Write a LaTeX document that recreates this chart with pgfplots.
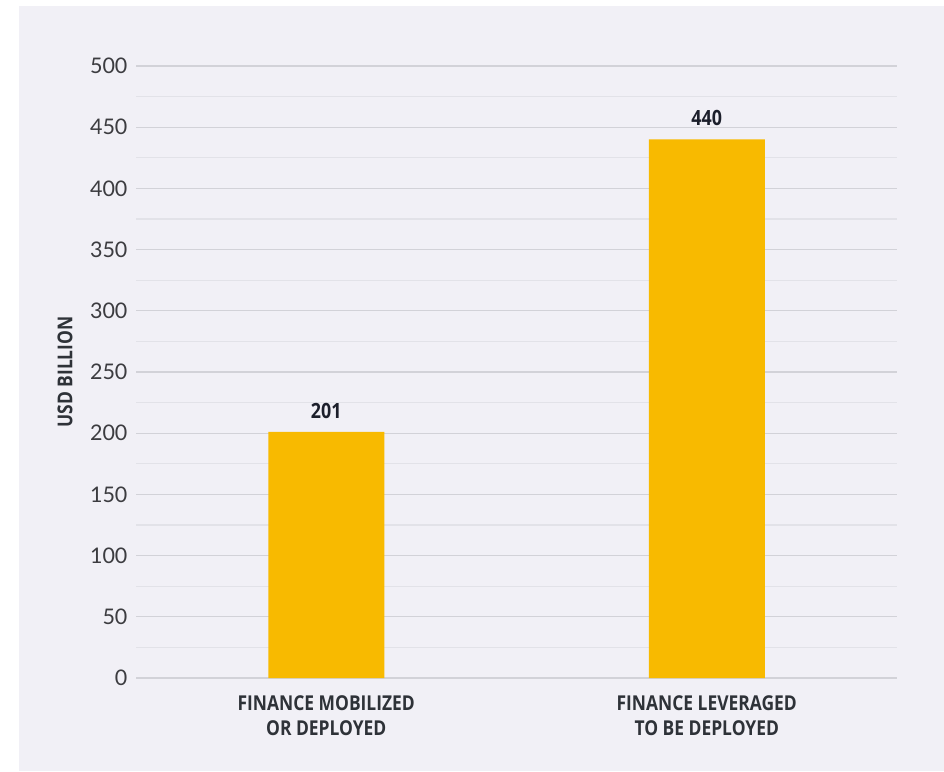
\documentclass[border=0pt]{standalone}
\usepackage{pgfplots}
\pgfplotsset{compat=1.18}
\usepackage{fontspec}
\setmainfont{Lato}
\newfontfamily\condbold[FakeStretch=0.85]{Open Sans}
\definecolor{bg}{HTML}{F1F0F6}
\definecolor{barcol}{HTML}{F8BA00}
\definecolor{gridmaj}{HTML}{D2D2D8}
\definecolor{gridmin}{HTML}{E2E2E8}
\definecolor{basecol}{HTML}{7A7A7E}
\definecolor{ticktext}{HTML}{3C3C40}
\definecolor{labtext}{HTML}{2E3238}
\definecolor{valtext}{HTML}{1C1F2B}
\begin{document}
\begin{tikzpicture}[x=1pt,y=1pt]
\fill[white] (0,0) rectangle (944,771);
\fill[bg] (19,0) rectangle (944,765);
\begin{axis}[
  at={(136pt,93pt)}, anchor=south west,
  scale only axis, width=761pt, height=612pt,
  xmin=-0.5, xmax=1.5, ymin=0, ymax=500,
  axis line style={draw=none},
  major tick length=0pt, minor tick length=0pt,
  ytick={50,100,...,500},
  minor ytick={25,75,...,475},
  extra y ticks={0},
  extra y tick labels={0},
  extra y tick style={grid style={color=basecol, line width=1.3pt}},
  ymajorgrids, yminorgrids,
  major grid style={color=gridmaj, line width=1.3pt},
  minor grid style={color=gridmin, line width=1.1pt},
  /pgf/number format/assume math mode=true,
  yticklabel style={font=\fontsize{21.5}{24}\selectfont, text=ticktext, xshift=-5pt},
  xtick={0,1},
  xticklabels={FINANCE MOBILIZED\\OR DEPLOYED, FINANCE LEVERAGED\\TO BE DEPLOYED},
  xticklabel style={align=center, font=\condbold\bfseries\fontsize{20.5}{25.5}\selectfont, text=labtext, yshift=-14pt},
  ylabel={USD BILLION},
  ylabel style={at={(axis description cs:-0.0933,0.5)}, anchor=center, font=\condbold\bfseries\fontsize{20.5}{24}\selectfont, text=labtext},
  ybar, bar width=116pt,
  nodes near coords,
  every node near coord/.append style={anchor=center, yshift=21pt, font=\condbold\bfseries\fontsize{21}{24}\selectfont, text=valtext},
]
\addplot[fill=barcol, draw=none] coordinates {(0,201) (1,440)};
\end{axis}
\end{tikzpicture}
\end{document}
